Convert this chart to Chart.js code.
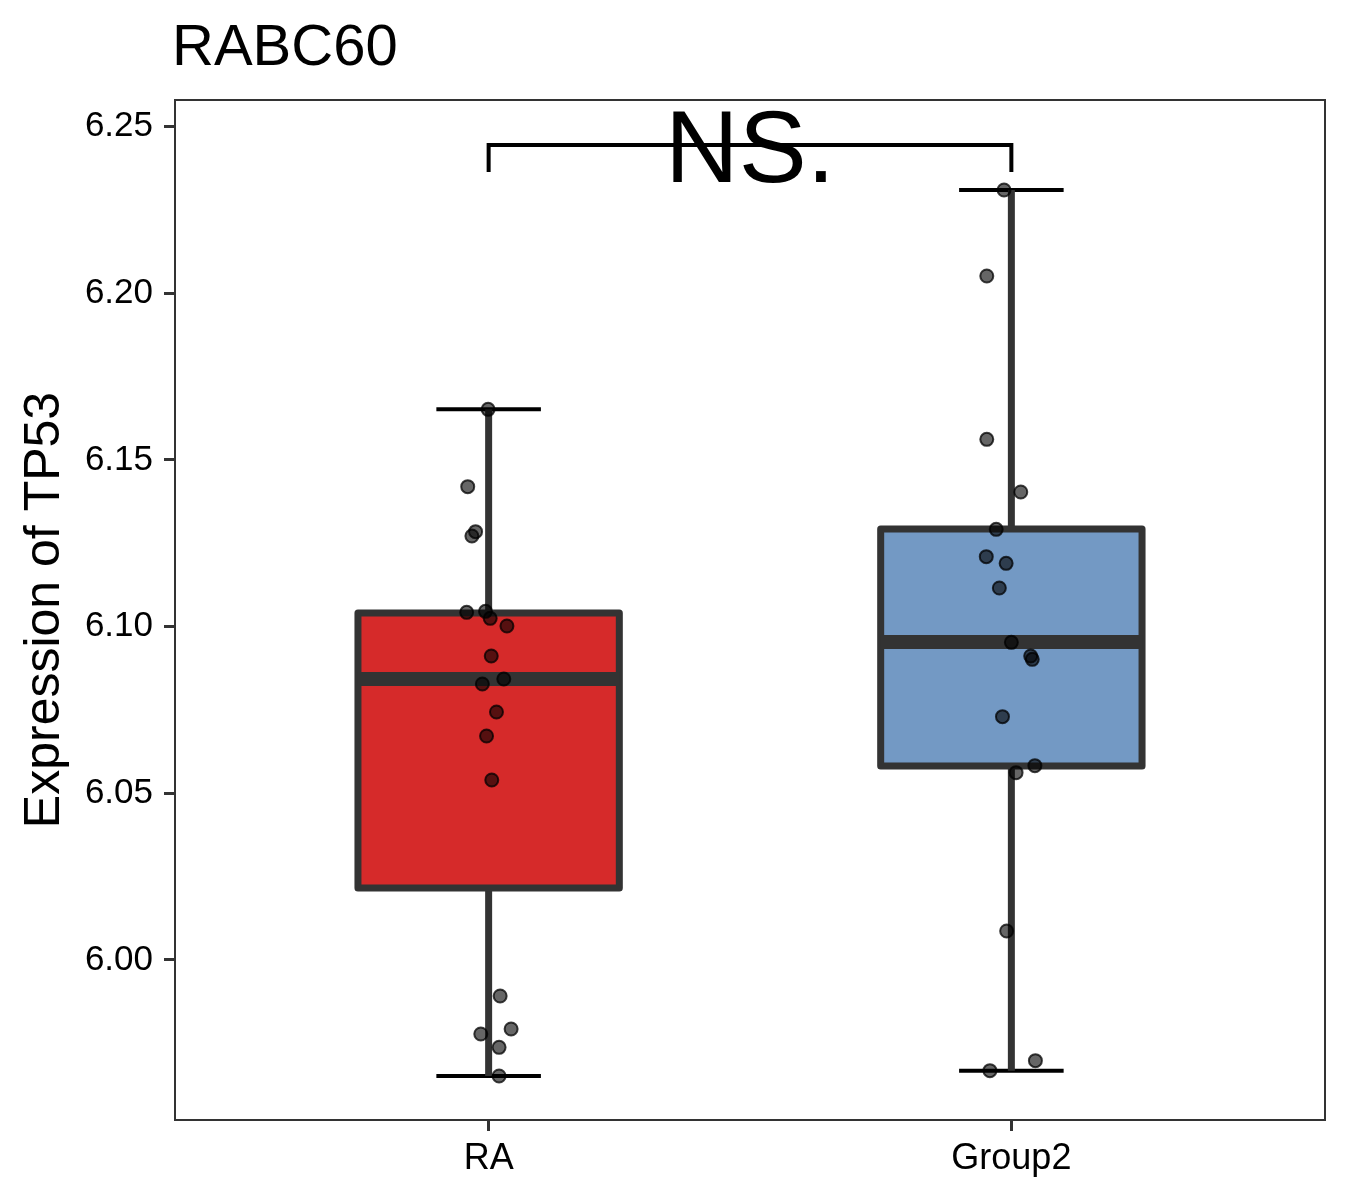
<!DOCTYPE html>
<html lang="en">

<head>
    <meta charset="UTF-8">
    <title>RABC60</title>
    <script src="https://cdn.jsdelivr.net/npm/chart.js"></script>
    <style>
        body { margin: 0; background: #fff; }
    </style>
</head>

<body>
    <div style="width: 1350px; height: 1200px;">
        <canvas id="myChart"></canvas>
    </div>
    <script>
        // data
        const groups = ['RA', 'Group2'];
        const boxFill = ['#D62A2A', '#7399C4'];
        const yTicks = [6.00, 6.05, 6.10, 6.15, 6.20, 6.25];

        // box stats per group: lower whisker, Q1, median, Q3, upper whisker
        const lowerWhisker = [5.9652, 5.9668];
        const q1 = [6.0216, 6.0582];
        const median = [6.0843, 6.0954];
        const q3 = [6.1041, 6.1293];
        const upperWhisker = [6.1652, 6.2310];

        // jittered samples (x = group position + jitter)
        const raX = [0.999, 0.960, 0.975, 0.968, 0.958, 0.994, 1.003, 1.035, 1.005, 1.029,
            0.988, 1.015, 0.996, 1.006, 1.022, 0.985, 1.043, 1.020, 1.020];
        const raY = [6.1652, 6.1420, 6.1285, 6.1272, 6.1043, 6.1046, 6.1025, 6.1002, 6.0912, 6.0843,
            6.0828, 6.0744, 6.0672, 6.0540, 5.9892, 5.9778, 5.9793, 5.9738, 5.9652];
        const g2X = [1.986, 1.953, 1.953, 2.018, 1.971, 1.952, 1.990, 1.977, 2.000, 2.037,
            2.040, 1.983, 2.045, 2.009, 1.991, 1.959, 2.046];
        const g2Y = [6.2310, 6.2052, 6.1562, 6.1404, 6.1292, 6.1210, 6.1190, 6.1116, 6.0953, 6.0912,
            6.0902, 6.0730, 6.0583, 6.0562, 6.0087, 5.9668, 5.9698];

        const sigLabel = 'NS.';
        const sigBracket = [6.2445, 6.2364]; // bar level, tip level

        Chart.defaults.font.family = "'Liberation Sans', Arial, sans-serif";
        Chart.defaults.color = '#000';

        const toPoints = (xs, ys) => xs.map((v, i) => ({ x: v, y: ys[i] }));

        function seg(ctx, x1, y1, x2, y2) {
            ctx.beginPath();
            ctx.moveTo(x1, y1);
            ctx.lineTo(x2, y2);
            ctx.stroke();
        }

        const boxPlugin = {
            id: 'boxes',
            beforeDatasetsDraw(chart) {
                const { ctx, scales: { x, y } } = chart;
                ctx.save();
                groups.forEach((g, i) => {
                    const c = i + 1;
                    const cx = x.getPixelForValue(c);
                    const l = x.getPixelForValue(c - 0.25), r = x.getPixelForValue(c + 0.25);
                    const cl = x.getPixelForValue(c - 0.1), cr = x.getPixelForValue(c + 0.1);
                    // caps
                    ctx.strokeStyle = '#000';
                    ctx.lineWidth = 4;
                    seg(ctx, cl, y.getPixelForValue(upperWhisker[i]), cr, y.getPixelForValue(upperWhisker[i]));
                    seg(ctx, cl, y.getPixelForValue(lowerWhisker[i]), cr, y.getPixelForValue(lowerWhisker[i]));
                    // whiskers
                    ctx.strokeStyle = '#333';
                    ctx.lineWidth = 7;
                    seg(ctx, cx, y.getPixelForValue(upperWhisker[i]), cx, y.getPixelForValue(q3[i]));
                    seg(ctx, cx, y.getPixelForValue(q1[i]), cx, y.getPixelForValue(lowerWhisker[i]));
                    // box
                    const top = y.getPixelForValue(q3[i]), bot = y.getPixelForValue(q1[i]);
                    ctx.fillStyle = boxFill[i];
                    ctx.fillRect(l, top, r - l, bot - top);
                    ctx.lineJoin = 'round';
                    ctx.strokeRect(l, top, r - l, bot - top);
                    // median
                    ctx.lineWidth = 14;
                    ctx.lineCap = 'butt';
                    seg(ctx, l, y.getPixelForValue(median[i]), r, y.getPixelForValue(median[i]));
                });
                ctx.restore();
            },
            afterDraw(chart) {
                const { ctx, chartArea, scales: { x, y } } = chart;
                ctx.save();
                // panel border
                ctx.strokeStyle = '#333';
                ctx.lineWidth = 2;
                ctx.strokeRect(chartArea.left, chartArea.top, chartArea.right - chartArea.left, chartArea.bottom - chartArea.top);
                // significance bracket
                const x1 = x.getPixelForValue(1), x2 = x.getPixelForValue(2);
                const yb = y.getPixelForValue(sigBracket[0]), yt = y.getPixelForValue(sigBracket[1]);
                ctx.strokeStyle = '#000';
                ctx.lineWidth = 4;
                ctx.beginPath();
                ctx.moveTo(x1, yt);
                ctx.lineTo(x1, yb);
                ctx.lineTo(x2, yb);
                ctx.lineTo(x2, yt);
                ctx.stroke();
                ctx.fillStyle = '#000';
                ctx.font = "102px 'Liberation Sans', Arial, sans-serif";
                ctx.textAlign = 'center';
                ctx.textBaseline = 'alphabetic';
                ctx.fillText(sigLabel, (x1 + x2) / 2, yb + 37);
                // title
                ctx.font = "58px 'Liberation Sans', Arial, sans-serif";
                ctx.textAlign = 'left';
                ctx.fillText('RABC60', chartArea.left - 3, 65);
                ctx.restore();
            }
        };

        const config = {
            type: 'scatter',
            plugins: [boxPlugin],
            data: {
                datasets: [
                    {
                        label: 'RA',
                        data: toPoints(raX, raY),
                        pointRadius: 6.5,
                        pointBackgroundColor: 'rgba(0, 0, 0, 0.6)',
                        pointBorderColor: 'rgba(0, 0, 0, 0.75)',
                        pointBorderWidth: 2
                    },
                    {
                        label: 'Group2',
                        data: toPoints(g2X, g2Y),
                        pointRadius: 6.5,
                        pointBackgroundColor: 'rgba(0, 0, 0, 0.6)',
                        pointBorderColor: 'rgba(0, 0, 0, 0.75)',
                        pointBorderWidth: 2
                    }
                ]
            },
            options: {
                responsive: true,
                maintainAspectRatio: false,
                animation: false,
                layout: {
                    padding: { top: 100, right: 25, left: 0, bottom: 0 }
                },
                scales: {
                    x: {
                        type: 'linear',
                        min: 0.4,
                        max: 2.6,
                        afterBuildTicks: function (axis) {
                            axis.ticks = groups.map((g, i) => ({ value: i + 1 }));
                        },
                        afterFit: function (axis) {
                            axis.height = 80;
                        },
                        grid: {
                            drawOnChartArea: false,
                            tickLength: 11,
                            color: '#333',
                            lineWidth: 3
                        },
                        border: { display: false },
                        ticks: {
                            autoSkip: false,
                            maxRotation: 0,
                            padding: 6,
                            font: { size: 36 },
                            callback: function (value) {
                                return groups[value - 1];
                            }
                        }
                    },
                    y: {
                        min: 5.952,
                        max: 6.258,
                        afterBuildTicks: function (axis) {
                            axis.ticks = yTicks.map(v => ({ value: v }));
                        },
                        afterFit: function (axis) {
                            axis.width = 175;
                        },
                        grid: {
                            drawOnChartArea: false,
                            tickLength: 11,
                            color: '#333',
                            lineWidth: 3
                        },
                        border: { display: false },
                        title: {
                            display: true,
                            text: 'Expression of TP53',
                            font: { size: 50 },
                            padding: { top: 15, bottom: 0 }
                        },
                        ticks: {
                            padding: 11,
                            font: { size: 35 },
                            callback: function (value) {
                                return value.toFixed(2);
                            }
                        }
                    }
                },
                plugins: {
                    legend: { display: false },
                    tooltip: { enabled: false },
                    title: { display: false }
                }
            }
        };

        const myChart = new Chart(
            document.getElementById('myChart'),
            config
        );
    </script>
</body>

</html>
